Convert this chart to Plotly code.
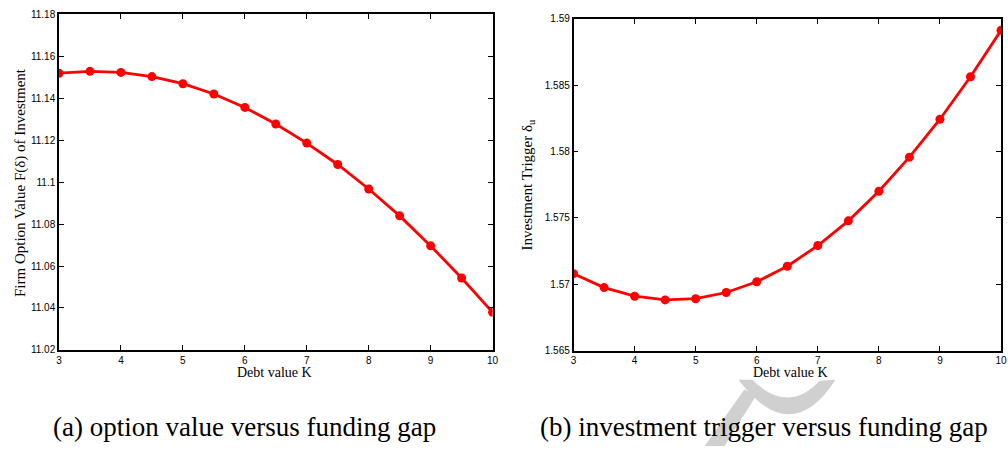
import plotly.graph_objects as go

debt_k = [3, 3.5, 4, 4.5, 5, 5.5, 6, 6.5, 7, 7.5, 8, 8.5, 9, 9.5, 10]
option_value = [11.1519, 11.1528, 11.1523, 11.1503, 11.1469, 11.1420, 11.1356, 11.1277,
                11.1186, 11.1084, 11.0967, 11.0839, 11.0696, 11.0543, 11.0379]
trigger = [1.5708, 1.56975, 1.5691, 1.56882, 1.56891, 1.56938, 1.57019, 1.57136,
           1.57292, 1.57478, 1.57701, 1.57958, 1.58244, 1.58564, 1.58914]

x_ticks = [3, 4, 5, 6, 7, 8, 9, 10]
x_ticktext = ["3", "4", "5", "6", "7", "8", "9", "10"]
left_yticks = [11.02, 11.04, 11.06, 11.08, 11.10, 11.12, 11.14, 11.16, 11.18]
left_yticktext = ["11.02", "11.04", "11.06", "11.08", "11.1", "11.12", "11.14", "11.16", "11.18"]
right_yticks = [1.565, 1.57, 1.575, 1.58, 1.585, 1.59]
right_yticktext = ["1.565", "1.57", "1.575", "1.58", "1.585", "1.59"]

W, H = 1008, 452
RED = "#ff0000"
TICKFONT = dict(family="Liberation Sans", size=10, color="#000")
SERIF = "Times New Roman, Liberation Serif, serif"

fig = go.Figure()
fig.add_trace(go.Scatter(x=debt_k, y=option_value, mode="lines+markers",
                         line=dict(color=RED, width=2.8),
                         marker=dict(color=RED, size=9, symbol="circle"),
                         xaxis="x", yaxis="y", showlegend=False))
fig.add_trace(go.Scatter(x=debt_k, y=trigger, mode="lines+markers",
                         line=dict(color=RED, width=2.8),
                         marker=dict(color=RED, size=9, symbol="circle"),
                         xaxis="x2", yaxis="y2", showlegend=False))

axis_common = dict(showline=True, linecolor="#000", linewidth=1.5, mirror="allticks",
                   ticks="inside", ticklen=5, tickwidth=1, tickcolor="#000",
                   showgrid=False, zeroline=False, tickfont=TICKFONT)

def px_x(p):
    return p / W

def px_y(p):
    return 1 - p / H

fig.update_layout(
    width=W, height=H,
    margin=dict(l=0, r=0, t=0, b=0),
    paper_bgcolor="white", plot_bgcolor="white",
    xaxis=dict(domain=[px_x(56.5), px_x(494)], range=[3, 10],
               tickvals=x_ticks, ticktext=x_ticktext, anchor="y", **axis_common),
    yaxis=dict(domain=[px_y(353.3), px_y(8.5)], range=[11.02, 11.18],
               tickvals=left_yticks, ticktext=left_yticktext, anchor="x", **axis_common),
    xaxis2=dict(domain=[px_x(575.7), px_x(1007)], range=[3, 10],
                tickvals=x_ticks, ticktext=x_ticktext, anchor="y2", **axis_common),
    yaxis2=dict(domain=[px_y(354), px_y(13.3)], range=[1.565, 1.59],
                tickvals=right_yticks, ticktext=right_yticktext, anchor="x2", **axis_common),
)

# light grey watermark swoosh from the scanned page
def to_path(cmds):
    out = []
    for c in cmds:
        if isinstance(c, str):
            out.append(c)
        else:
            out.append(f"{px_x(c[0]):.5f},{px_y(c[1]):.5f}")
    return " ".join(out)

crescent = to_path(["M", (742, 384), "Q", (795, 455), (840, 384),
                    "L", (824, 385), "Q", (792, 420), (756, 384), "Z"])
stroke = to_path(["M", (708, 452), "L", (728, 452), "L", (760, 400), "L", (748, 394), "Z"])
for p in (crescent, stroke):
    fig.add_shape(type="path", path=p, xref="paper", yref="paper",
                  fillcolor="#d0d0d0", line=dict(width=0), layer="below")

annos = [
    dict(text="Debt value K", x=px_x(274), y=px_y(377), font=dict(family=SERIF, size=14)),
    dict(text="Debt value K", x=px_x(795), y=px_y(377), font=dict(family=SERIF, size=14)),
    dict(text="Firm Option Value F(δ) of Investment", x=px_x(17), y=px_y(181),
         textangle=-90, font=dict(family=SERIF, size=15)),
    dict(text="Investment Trigger δ<sub>u</sub>", x=px_x(530), y=px_y(184),
         textangle=-90, font=dict(family=SERIF, size=15)),
    dict(text="(a) option value versus funding gap", x=px_x(244), y=px_y(432),
         font=dict(family=SERIF, size=27)),
    dict(text="(b) investment trigger versus funding gap", x=px_x(768), y=px_y(432),
         font=dict(family=SERIF, size=27)),
]
for a in annos:
    a.update(xref="paper", yref="paper", showarrow=False, xanchor="center", yanchor="middle")
    a["font"]["color"] = "#000"
    fig.add_annotation(**a)

fig.write_html("out.html")
